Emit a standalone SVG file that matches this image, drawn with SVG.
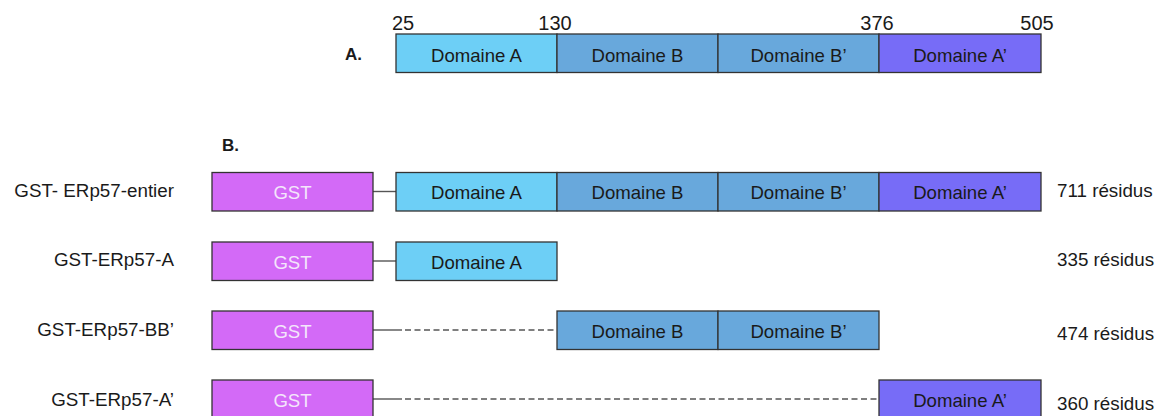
<svg xmlns="http://www.w3.org/2000/svg" width="1161" height="416" viewBox="0 0 1161 416">
<style>
text{font-family:"Liberation Sans",Arial,sans-serif;fill:#1a1a1a}
.box{stroke:#333;stroke-width:1.3}
.a{fill:#6dcff6}.b{fill:#68a8dc}.ap{fill:#776cf7}.gst{fill:#d36af7}
.dl{font-size:18.6px;text-anchor:middle}
.gl{font-size:18.6px;text-anchor:middle;fill:#f4e6fb}
.num{font-size:20px;text-anchor:middle}
.lab{font-size:18.8px;text-anchor:end}
.res{font-size:18.8px}
.hd{font-size:17px;font-weight:bold}
.ln{stroke:#555;stroke-width:1.4;fill:none}
.dash{stroke-dasharray:6 3.5}
</style>
<rect width="1161" height="416" fill="#fff"/>
<g id="panelA">
<text class="hd" x="345" y="60">A.</text>
<text class="num" x="403" y="30">25</text>
<text class="num" x="555" y="30">130</text>
<text class="num" x="877" y="30">376</text>
<text class="num" x="1037" y="30">505</text>
<g id="a-domA"><rect class="box a" x="396" y="34" width="161" height="38.5"/><text class="dl" x="476.5" y="62">Domaine A</text></g>
<g id="a-domB"><rect class="box b" x="557" y="34" width="161" height="38.5"/><text class="dl" x="637.5" y="62">Domaine B</text></g>
<g id="a-domBp"><rect class="box b" x="718" y="34" width="161" height="38.5"/><text class="dl" x="798.5" y="62">Domaine B’</text></g>
<g id="a-domAp"><rect class="box ap" x="879" y="34" width="162" height="38.5"/><text class="dl" x="960" y="62">Domaine A’</text></g>
</g>
<text class="hd" x="222" y="151">B.</text>
<g id="connectors">
<line class="ln" x1="373" y1="191.5" x2="396" y2="191.5"/>
<line class="ln" x1="373" y1="261" x2="396" y2="261"/>
<line class="ln" x1="373" y1="330" x2="402" y2="330"/>
<line class="ln dash" x1="405" y1="330" x2="557" y2="330"/>
<line class="ln" x1="373" y1="399" x2="402" y2="399"/>
<line class="ln dash" x1="405" y1="399" x2="879" y2="399"/>
</g>
<g id="row1">
<text class="lab" x="174" y="197">GST- ERp57-entier</text>
<g id="r1-gst"><rect class="box gst" x="212" y="172.5" width="161" height="38.5"/><text class="gl" x="292.5" y="199">GST</text></g>
<g id="r1-domA"><rect class="box a" x="396" y="172.5" width="161" height="38.5"/><text class="dl" x="476.5" y="199">Domaine A</text></g>
<g id="r1-domB"><rect class="box b" x="557" y="172.5" width="161" height="38.5"/><text class="dl" x="637.5" y="199">Domaine B</text></g>
<g id="r1-domBp"><rect class="box b" x="718" y="172.5" width="161" height="38.5"/><text class="dl" x="798.5" y="199">Domaine B’</text></g>
<g id="r1-domAp"><rect class="box ap" x="879" y="172.5" width="162" height="38.5"/><text class="dl" x="960" y="199">Domaine A’</text></g>
<text class="res" x="1057" y="197">711 résidus</text>
</g>
<g id="row2">
<text class="lab" x="174" y="266">GST-ERp57-A</text>
<g id="r2-gst"><rect class="box gst" x="212" y="242" width="161" height="38.5"/><text class="gl" x="292.5" y="268.5">GST</text></g>
<g id="r2-domA"><rect class="box a" x="396" y="242" width="161" height="38.5"/><text class="dl" x="476.5" y="268.5">Domaine A</text></g>
<text class="res" x="1057" y="266">335 résidus</text>
</g>
<g id="row3">
<text class="lab" x="174" y="336">GST-ERp57-BB’</text>
<g id="r3-gst"><rect class="box gst" x="212" y="311" width="161" height="38.5"/><text class="gl" x="292.5" y="337.5">GST</text></g>
<g id="r3-domB"><rect class="box b" x="557" y="311" width="161" height="38.5"/><text class="dl" x="637.5" y="337.5">Domaine B</text></g>
<g id="r3-domBp"><rect class="box b" x="718" y="311" width="161" height="38.5"/><text class="dl" x="798.5" y="337.5">Domaine B’</text></g>
<text class="res" x="1057" y="340">474 résidus</text>
</g>
<g id="row4">
<text class="lab" x="174" y="406">GST-ERp57-A’</text>
<g id="r4-gst"><rect class="box gst" x="212" y="380" width="161" height="38.5"/><text class="gl" x="292.5" y="406.5">GST</text></g>
<g id="r4-domAp"><rect class="box ap" x="879" y="380" width="162" height="38.5"/><text class="dl" x="960" y="406.5">Domaine A’</text></g>
<text class="res" x="1057" y="410">360 résidus</text>
</g>
</svg>
